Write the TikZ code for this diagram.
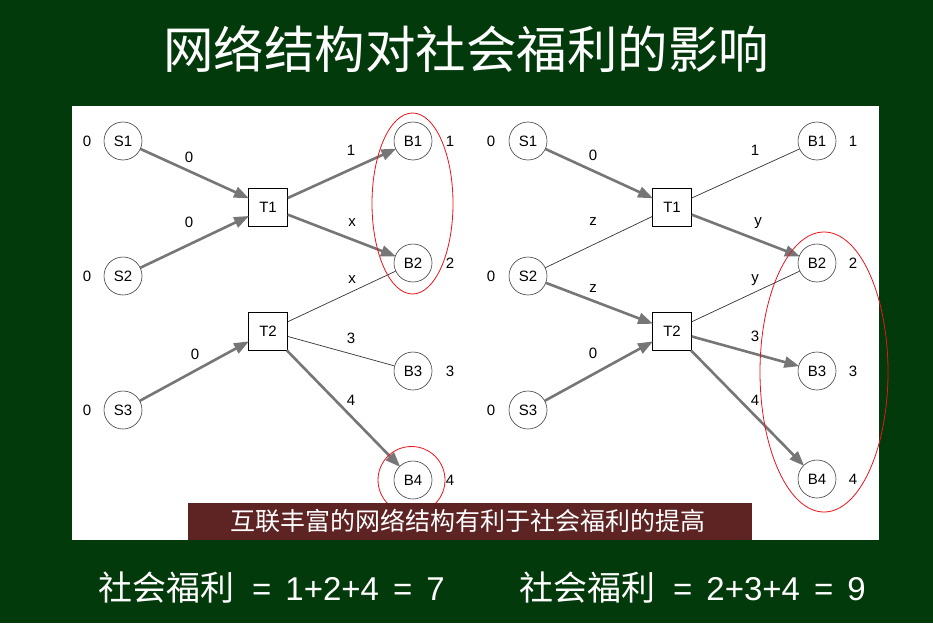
\documentclass[tikz,border=0pt]{standalone}
\usepackage{fontspec}
\setmainfont{Liberation Sans}
\newfontfamily\cjk{Noto Sans CJK SC}
\usetikzlibrary{arrows.meta}
\definecolor{bgreen}{HTML}{033A0B}
\definecolor{banner}{HTML}{5E2323}
\definecolor{flow}{HTML}{767676}
\definecolor{ring}{HTML}{E8141B}
% sum line: CJK word, then the spaced-out arithmetic
\newcommand{\welfareline}[4]{{\cjk\fontsize{34}{34}\selectfont 社会福利}\hspace{18pt}{\fontsize{33}{33}\selectfont =\hspace{14pt}#1+#2+#3\hspace{14pt}=\hspace{14pt}#4}}
\begin{document}
\begin{tikzpicture}[x=1pt,y=-1pt,
  lbl/.style={font=\fontsize{15}{15}\selectfont, inner sep=0pt},
  agent/.style={circle, draw=black!75, line width=0.6pt, minimum size=38pt, inner sep=0pt, font=\fontsize{15}{15}\selectfont, fill=white},
  trader/.style={rectangle, draw=black, line width=0.7pt, minimum width=39pt, minimum height=38pt, inner sep=0pt, font=\fontsize{15}{15}\selectfont, fill=white},
  flowarrow/.style={draw=flow, line width=2.6pt, -{Triangle[length=15pt,width=11pt]}, shorten >=-1pt},
  link/.style={draw=black!80, line width=0.7pt},
  hl/.style={draw=ring, line width=0.8pt}]
\useasboundingbox (0,0) rectangle (933,623);
\fill[bgreen] (0,0) rectangle (933,623);
\fill[white] (72,106) rectangle (879,540);

% title
\node[text=white, font=\cjk\fontsize{50.5}{50.5}\selectfont] (title) at (466,49) {网络结构对社会福利的影响};

% ---------- left network ----------
\node[agent] (aS1) at (123,141) {S1};
\node[agent] (aS2) at (123,276) {S2};
\node[agent] (aS3) at (123,410) {S3};
\node[trader] (aT1) at (268,207) {T1};
\node[trader] (aT2) at (268,331) {T2};
\node[agent] (aB1) at (413,141) {B1};
\node[agent] (aB2) at (413,263) {B2};
\node[agent] (aB3) at (413,371) {B3};
\node[agent] (aB4) at (413,480) {B4};

\foreach \n/\y in {1/141,2/276,3/410} \node[lbl] (aSv\n) at (87,\y) {0};
\node[lbl] (aBv1) at (450,141) {1};
\node[lbl] (aBv2) at (450,263) {2};
\node[lbl] (aBv3) at (450,371) {3};
\node[lbl] (aBv4) at (450,480) {4};

\draw[flowarrow] (aS1) -- (aT1);
\draw[flowarrow] (aS2) -- (aT1);
\draw[flowarrow] (aT1) -- (aB1);
\draw[flowarrow] (aT1) -- (aB2);
\draw[flowarrow] (aS3) -- (aT2);
\draw[flowarrow] (aT2) -- (aB4);
\draw[link] (aT2) -- (aB2);
\draw[link] (aT2) -- (aB3);

\node[lbl] (ae1) at (189,157) {0};
\node[lbl] (ae2) at (189,222) {0};
\node[lbl] (ae3) at (351,150) {1};
\node[lbl] (ae4) at (352,223) {x};
\node[lbl] (ae5) at (352,280) {x};
\node[lbl] (ae6) at (351,338) {3};
\node[lbl] (ae7) at (351,400) {4};
\node[lbl] (ae8) at (195,354) {0};

\draw[hl] (412.5,203.5) ellipse [x radius=40.5, y radius=90.5];
\draw[hl] (411.5,480) circle [radius=33.5];

% ---------- right network ----------
\node[agent] (bS1) at (528,141) {S1};
\node[agent] (bS2) at (528,276) {S2};
\node[agent] (bS3) at (528,410) {S3};
\node[trader] (bT1) at (672,207) {T1};
\node[trader] (bT2) at (672,331) {T2};
\node[agent] (bB1) at (817,141) {B1};
\node[agent] (bB2) at (817,263) {B2};
\node[agent] (bB3) at (817,371) {B3};
\node[agent] (bB4) at (817,479) {B4};

\foreach \n/\y in {1/141,2/276,3/410} \node[lbl] (bSv\n) at (491,\y) {0};
\node[lbl] (bBv1) at (853,141) {1};
\node[lbl] (bBv2) at (853,263) {2};
\node[lbl] (bBv3) at (853,371) {3};
\node[lbl] (bBv4) at (853,479) {4};

\draw[flowarrow] (bS1) -- (bT1);
\draw[link] (bS2) -- (bT1);
\draw[flowarrow] (bS2) -- (bT2);
\draw[flowarrow] (bS3) -- (bT2);
\draw[link] (bT1) -- (bB1);
\draw[flowarrow] (bT1) -- (bB2);
\draw[link] (bT2) -- (bB2);
\draw[flowarrow] (bT2) -- (bB3);
\draw[flowarrow] (bT2) -- (bB4);

\node[lbl] (be1) at (593,155) {0};
\node[lbl] (be2) at (593,222) {z};
\node[lbl] (be3) at (593,289) {z};
\node[lbl] (be4) at (593,353) {0};
\node[lbl] (be5) at (755,150) {1};
\node[lbl] (be6) at (758,223) {y};
\node[lbl] (be7) at (755,280) {y};
\node[lbl] (be8) at (755,336) {3};
\node[lbl] (be9) at (755,400) {4};

\draw[hl] (824,372) ellipse [x radius=64, y radius=140];

% ---------- captions ----------
\fill[banner] (188,503) rectangle (752,540);
\node[text=white, font=\cjk\fontsize{25}{25}\selectfont] (note) at (468,521) {互联丰富的网络结构有利于社会福利的提高};

\node[text=white, anchor=west, inner sep=0pt] (sumL) at (98,588) {\welfareline{1}{2}{4}{7}};
\node[text=white, anchor=west, inner sep=0pt] (sumR) at (519,588) {\welfareline{2}{3}{4}{9}};
\end{tikzpicture}
\end{document}
